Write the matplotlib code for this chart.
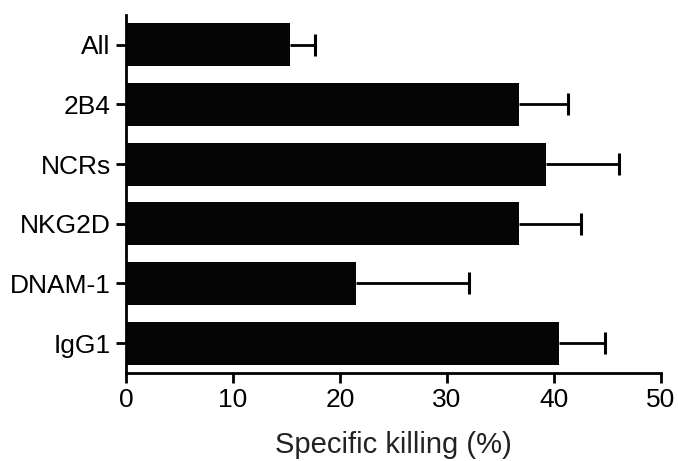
import numpy as np
import matplotlib
matplotlib.use("Agg")
import matplotlib.pyplot as plt

plt.rcParams['font.family'] = ['Liberation Sans', 'DejaVu Sans']

# data, top to bottom as in the figure
groups = ['All', '2B4', 'NCRs', 'NKG2D', 'DNAM-1', 'IgG1']
killing = [15.3, 36.7, 39.25, 36.7, 21.5, 40.5]
err_upper = [2.4, 4.6, 6.85, 5.8, 10.6, 4.3]
xticks = [0, 10, 20, 30, 40, 50]

fig = plt.figure(figsize=(6.78, 4.61), dpi=100)
ax = fig.add_axes([0.1858, 0.1909, 0.7892, 0.7766])

pos = np.arange(len(groups))
tops = np.array(killing) + np.array(err_upper)
ax.barh(pos, killing, height=0.72, color='#050505', edgecolor='none', zorder=2)
# one-sided error bars: whisker plus a cap only at the outer end
ax.hlines(pos, killing, tops, color='black', linewidth=2, zorder=1)
ax.plot(tops, pos, linestyle='none', marker='|', markersize=16,
        markeredgewidth=2.2, color='black', zorder=1)

ax.set_ylim(len(groups) - 0.5, -0.5)
ax.set_xlim(0, 50)
ax.set_yticks(pos)
ax.set_yticklabels(groups)
ax.set_xticks(xticks)

for s in ['top', 'right']:
    ax.spines[s].set_visible(False)
for s in ['left', 'bottom']:
    ax.spines[s].set_linewidth(2)

ax.tick_params(axis='both', width=2, length=7, labelsize=19, pad=4)
ax.set_xlabel('Specific killing (%)', fontsize=21, color='#222222')
ax.xaxis.set_label_coords(0.5, -0.162)

fig.savefig('out.png', dpi=100)
